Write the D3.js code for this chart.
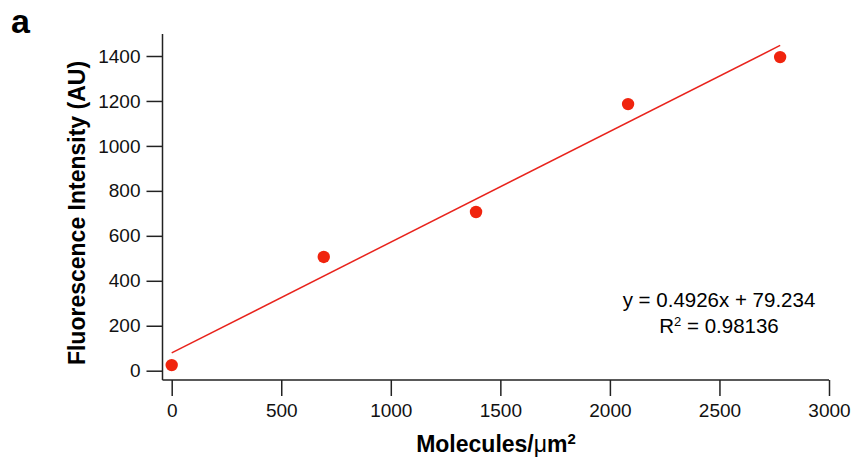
<!DOCTYPE html>
<meta charset="utf-8">
<style>
body { margin: 0; background: #fff; }
svg { font-family: "Liberation Sans", Arial, Helvetica, sans-serif; }
.axis path, .axis line { stroke: #222; stroke-width: 1.5px; fill: none; }
.axis text { font-size: 19px; fill: #111; font-family: "Liberation Sans", Arial, sans-serif; }
</style>
<div id="chart"></div>
<script src="https://d3js.org/d3.v7.min.js"></script>
<script>
// data
var density = [0, 694, 1389, 2083, 2777];
var intensity = [25, 506, 706, 1186, 1395];
var xTicks = [0, 500, 1000, 1500, 2000, 2500, 3000];
var yTicks = [0, 200, 400, 600, 800, 1000, 1200, 1400];
var fitSlope = 0.4926, fitIntercept = 79.234;
var fitLabel = "y = 0.4926x + 79.234";
var r2Label = "0.98136";

var width = 857, height = 467;

var x = d3.scaleLinear().domain([0, 3000]).range([171.7, 829]);
var y = d3.scaleLinear().domain([0, 1400]).range([370.7, 56]);

var svg = d3.select("#chart").append("svg")
  .attr("width", width)
  .attr("height", height);

// panel letter
svg.append("text")
  .attr("x", 11).attr("y", 33)
  .style("font-size", "34px").style("font-weight", "bold")
  .text("a");

// y axis
var yAxis = svg.append("g")
  .attr("class", "y axis")
  .attr("transform", "translate(162.5,0)")
  .call(d3.axisLeft(y).tickValues(yTicks).tickFormat(d3.format("d"))
    .tickSize(16).tickPadding(6).tickSizeOuter(0));
yAxis.select(".domain").attr("d", "M0,34V380");

// x axis
var xAxis = svg.append("g")
  .attr("class", "x axis")
  .attr("transform", "translate(0,380)")
  .call(d3.axisBottom(x).tickValues(xTicks).tickFormat(d3.format("d"))
    .tickSize(16).tickPadding(8).tickSizeOuter(0));
xAxis.select(".domain").attr("d", "M162.5,0H829");

// axis titles
svg.append("text")
  .attr("transform", "translate(85,213) rotate(-90)")
  .attr("text-anchor", "middle")
  .style("font-size", "23px").style("font-weight", "bold")
  .text("Fluorescence Intensity (AU)");

var xt = svg.append("text")
  .attr("x", 496).attr("y", 452)
  .attr("text-anchor", "middle")
  .style("font-size", "23px").style("font-weight", "bold");
xt.append("tspan").text("Molecules/");
xt.append("tspan").style("font-weight", "normal").text("μ");
xt.append("tspan").text("m");
xt.append("tspan").attr("dy", -8).style("font-size", "15px").text("2");

// fit line
var fitX = [density[0], density[density.length - 1]];
svg.append("path")
  .datum(fitX)
  .attr("fill", "none")
  .attr("stroke", "#e8231c")
  .attr("stroke-width", 1.5)
  .attr("d", d3.line()
    .x(function(d) { return x(d); })
    .y(function(d) { return y(fitSlope * d + fitIntercept); }));

// points
svg.selectAll(".dot")
  .data(density)
  .enter().append("circle")
  .attr("class", "dot")
  .attr("cx", function(d) { return x(d); })
  .attr("cy", function(d, i) { return y(intensity[i]); })
  .attr("r", 6.2)
  .attr("fill", "#f0240e");

// equation
svg.append("text")
  .attr("x", 719).attr("y", 307)
  .attr("text-anchor", "middle")
  .style("font-size", "20.5px")
  .text(fitLabel);
var r2 = svg.append("text")
  .attr("x", 719).attr("y", 333)
  .attr("text-anchor", "middle")
  .style("font-size", "20.5px");
r2.append("tspan").text("R");
r2.append("tspan").attr("dy", -7).style("font-size", "13px").text("2");
r2.append("tspan").attr("dy", 7).text(" = " + r2Label);
</script>
